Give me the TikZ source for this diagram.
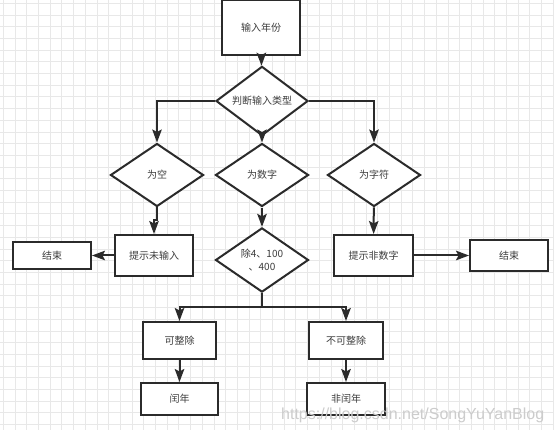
\documentclass[tikz,border=0pt]{standalone}
\usepackage{fontspec}
\newfontfamily\cjk{Noto Sans CJK SC}
\newfontfamily\wmfont{Liberation Sans}
\usetikzlibrary{shapes.geometric,arrows.meta}
\definecolor{ink}{HTML}{2B2B2B}
\definecolor{txt}{HTML}{3C3C3C}
\tikzset{
  gridline/.style={draw=black!9,line width=0.8pt},
  boxnode/.style={draw=ink,line width=2pt,fill=white,text=txt,font=\cjk\fontsize{10}{13}\selectfont,inner sep=0pt},
  decnode/.style={diamond,draw=ink,line width=2pt,fill=white,text=txt,font=\cjk\fontsize{10}{13}\selectfont,inner sep=0pt,align=center},
  flow/.style={draw=ink,line width=2pt,-{Stealth[length=13pt,width=9.5pt,inset=2.5pt]}},
  plain/.style={draw=ink,line width=2pt}
}
\begin{document}
\begin{tikzpicture}[x=1pt,y=-1pt]
\useasboundingbox (0,0) rectangle (554,430);
\fill[white] (0,0) rectangle (554,430);
\foreach \i in {0,...,47} {
  \draw[gridline] (3.3+11.7*\i,0) -- (3.3+11.7*\i,430);
}
\foreach \i in {0,...,37} {
  \draw[gridline] (0,3.3+11.7*\i) -- (554,3.3+11.7*\i);
}
% nodes
\node[boxnode,minimum width=78pt,minimum height=55pt] (input) at (261,27.5) {输入年份};
\node[decnode,minimum width=92pt,minimum height=60pt] (judge) at (262,101) {判断输入类型};
\node[decnode,minimum width=93pt,minimum height=63pt] (kong) at (157,175) {为空};
\node[decnode,minimum width=93pt,minimum height=63pt] (shuzi) at (262,175) {为数字};
\node[decnode,minimum width=93pt,minimum height=63pt] (zifu) at (374,175) {为字符};
\node[boxnode,minimum width=78pt,minimum height=41pt] (tw) at (154,255.5) {提示未输入};
\node[boxnode,minimum width=78pt,minimum height=27pt] (end1) at (52,255.5) {结束};
\node[decnode,minimum width=93pt,minimum height=62pt] (chu) at (262,260) {除4、100\\、400};
\node[boxnode,minimum width=79pt,minimum height=41pt] (tf) at (373.5,255.5) {提示非数字};
\node[boxnode,minimum width=78pt,minimum height=31pt] (end2) at (509,255.5) {结束};
\node[boxnode,minimum width=73pt,minimum height=37pt] (kz) at (179.5,340.5) {可整除};
\node[boxnode,minimum width=74pt,minimum height=37pt] (bkz) at (346,340.5) {不可整除};
\node[boxnode,minimum width=77pt,minimum height=32pt] (run) at (179.5,399) {闰年};
\node[boxnode,minimum width=78pt,minimum height=32pt] (frun) at (346,399) {非闰年};
% connectors
\draw[flow] (input) -- (judge);
\draw[flow] (judge.west) -| (kong.north);
\draw[flow] (judge) -- (shuzi);
\draw[flow] (judge.east) -| (zifu.north);
\coordinate (jog) at (157,220);
\draw[flow] (kong.south) -- (jog) -| (tw.north);
\draw[flow] (tw) -- (end1);
\draw[flow] (shuzi) -- (chu);
\draw[flow] (zifu) -- (tf);
\draw[flow] (tf) -- (end2);
\coordinate (split) at (262,306.5);
\draw[plain] (chu.south) -- (split);
\draw[flow] (split) -| (kz.north);
\draw[flow] (split) -| (bkz.north);
\draw[flow] (kz) -- (run);
\draw[flow] (bkz) -- (frun);
% watermark
\node[text=black!20,font=\wmfont\fontsize{16}{18}\selectfont,anchor=base west,inner sep=0pt] (wm) at (281,419) {https://blog.csdn.net/SongYuYanBlog};
\end{tikzpicture}
\end{document}
